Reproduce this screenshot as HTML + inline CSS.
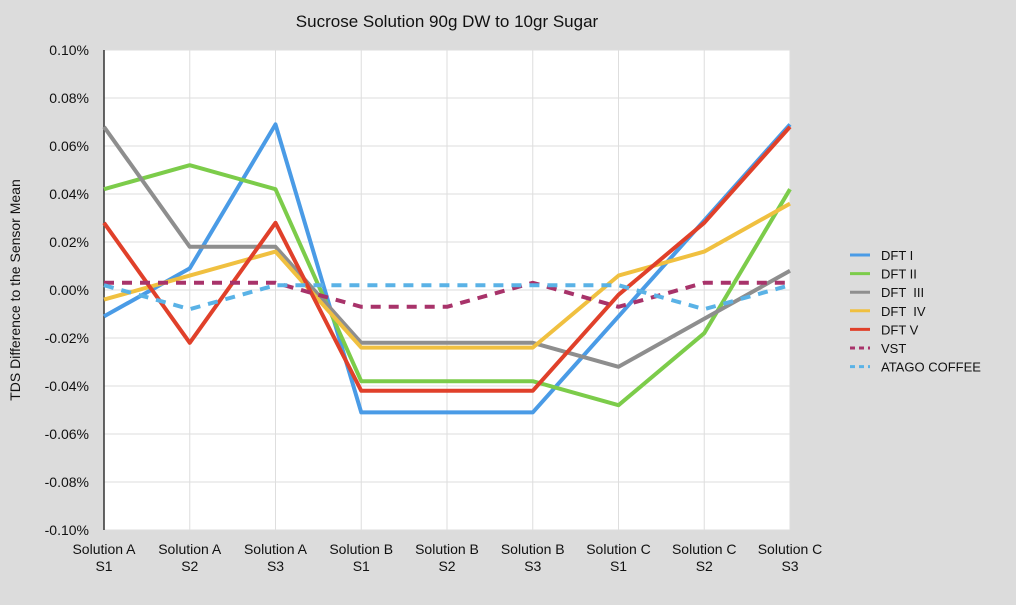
<!DOCTYPE html>
<html><head><meta charset="utf-8"><style>
body{margin:0;background:#dcdcdc;font-family:"Liberation Sans",sans-serif}
svg text{font-family:"Liberation Sans",sans-serif;fill:#111;white-space:pre}
</style></head><body>
<svg id="c" width="1016" height="600">
<rect width="1016" height="600" fill="#dcdcdc"/>
<rect x="104" y="50" width="686" height="480" fill="#fff"/>
<text x="447" y="27" font-size="17" text-anchor="middle">Sucrose Solution 90g DW to 10gr Sugar</text>
<text transform="translate(20,290) rotate(-90)" font-size="14" text-anchor="middle">TDS Difference to the Sensor Mean</text>
<g id="grid"></g><g id="lines"></g><g id="legend"></g>
</svg>
<script>
const categories=[["Solution A","S1"],["Solution A","S2"],["Solution A","S3"],["Solution B","S1"],["Solution B","S2"],["Solution B","S3"],["Solution C","S1"],["Solution C","S2"],["Solution C","S3"]];
const yTicks=[0.10,0.08,0.06,0.04,0.02,0,-0.02,-0.04,-0.06,-0.08,-0.10];
const seriesNames=["DFT I","DFT II","DFT  III","DFT  IV","DFT V","VST","ATAGO COFFEE"];
const seriesColors=["#4a9be6","#7ccc4a","#8e8e8e","#f0c040","#e0402a","#a8336a","#5ab2e6"];
const seriesDashed=[false,false,false,false,false,true,true];
const dft1=[-0.011,0.009,0.069,-0.051,-0.051,-0.051,-0.011,0.029,0.069];
const dft2=[0.042,0.052,0.042,-0.038,-0.038,-0.038,-0.048,-0.018,0.042];
const dft3=[0.068,0.018,0.018,-0.022,-0.022,-0.022,-0.032,-0.012,0.008];
const dft4=[-0.004,0.006,0.016,-0.024,-0.024,-0.024,0.006,0.016,0.036];
const dft5=[0.028,-0.022,0.028,-0.042,-0.042,-0.042,-0.002,0.028,0.068];
const vst=[0.003,0.003,0.003,-0.007,-0.007,0.003,-0.007,0.003,0.003];
const atago=[0.002,-0.008,0.002,0.002,0.002,0.002,0.002,-0.008,0.002];
const allSeries=[dft1,dft2,dft3,dft4,dft5,vst,atago];
const NS="http://www.w3.org/2000/svg";
const X0=104,X1=790,Y0=530,Y1=50;
const x=i=>X0+i*(X1-X0)/(categories.length-1);
const y=v=>Y0-(v+0.10)/0.20*(Y0-Y1);
function mk(t,a,p){const e=document.createElementNS(NS,t);for(const k in a)e.setAttribute(k,a[k]);p.appendChild(e);return e;}
const g=document.getElementById('grid');
yTicks.forEach(v=>{
 const l=mk('line',{x1:X0,x2:X1,y1:y(v),y2:y(v),stroke:'#dedede'},g);
 
 
 const t=mk('text',{x:X0-15,y:y(v)+5,'font-size':14,'text-anchor':'end'},g);
 t.textContent=v.toFixed(2)+'%';
 
 
});
categories.forEach((c,i)=>{
 const l=mk('line',{x1:x(i),x2:x(i),y1:Y1,y2:Y0,stroke:'#dedede'},g);
 
 
 const t=mk('text',{x:x(i),y:554,'font-size':14,'text-anchor':'middle'},g);
 t.innerHTML=c[0]+'<tspan x="'+x(i)+'" dy="17">'+c[1]+'</tspan>';
 
 
});
mk('line',{x1:X0,x2:X0,y1:Y1,y2:Y0,stroke:'#333','stroke-width':1.5},g);
const L=document.getElementById('lines');
allSeries.forEach((s,k)=>{
 const p=mk('polyline',{points:s.map((v,i)=>x(i)+','+y(v)).join(' '),fill:'none',stroke:seriesColors[k],'stroke-width':4,'stroke-dasharray':seriesDashed[k]?'10,8':'none','stroke-linejoin':'round'},L);
 
 
});
const G=document.getElementById('legend');
seriesNames.forEach((n,k)=>{
 const yy=255+k*18.6;
 const l=mk('line',{x1:850,x2:870,y1:yy,y2:yy,stroke:seriesColors[k],'stroke-width':3,'stroke-dasharray':seriesDashed[k]?'5,4':'none'},G);
 
 
 const t=mk('text',{x:881,y:yy+5,'font-size':13},G);
 t.textContent=n;
 
 
});
</script>
</body></html>
